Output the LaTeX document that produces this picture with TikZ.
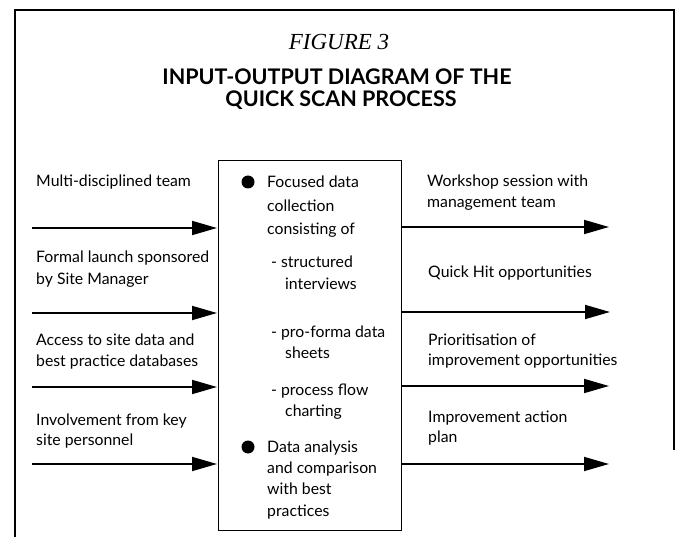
\documentclass[tikz,border=0pt]{standalone}
\usepackage{fontspec}
\setmainfont{Lato}
\newfontfamily\figfont{Liberation Serif}
\usetikzlibrary{arrows.meta}
\begin{document}
\begin{tikzpicture}[x=1pt,y=-1pt,
  lbl/.style={anchor=base west,inner sep=0pt,font=\fontsize{15.8}{18}\selectfont},
  flow/.style={line width=1.8pt,-{Triangle[length=25pt,width=14pt]}},
  frame/.style={line width=1.4pt},
  bul/.style={circle,fill=black,inner sep=0pt,minimum size=13pt},
  ttl/.style={anchor=base,inner sep=0pt,font=\bfseries\fontsize{21.5}{24}\selectfont}]
\useasboundingbox (0,0) rectangle (677,537);
% outer frame
\draw[frame] (15,537) -- (15,10) -- (674,10) -- (674,450);
% title
\node[anchor=base,inner sep=0pt] (fig) at (339,50) {\figfont\itshape\fontsize{23}{26}\selectfont FIGURE 3};
\node[ttl] (t1) at (337,85) {INPUT-OUTPUT DIAGRAM OF THE};
\node[ttl] (t2) at (341,107) {QUICK SCAN PROCESS};
% process box
\node[draw,line width=1.4pt,anchor=north west,minimum width=183pt,minimum height=370pt,inner sep=0pt] (proc) at (218,160) {};
% box contents
\node[bul] (b1) at (248,182) {};
\node[lbl] (c1) at (267,188) {Focused data};
\node[lbl] (c2) at (267,212) {collection};
\node[lbl] (c3) at (267,235) {consisting of};
\node[lbl] (c4) at (271,268) {- structured};
\node[lbl] (c5) at (285,290) {interviews};
\node[lbl] (c6) at (271,337) {- pro-forma data};
\node[lbl] (c7) at (285,358) {sheets};
\node[lbl] (c8) at (271,395) {- process flow};
\node[lbl] (c9) at (285,416) {charting};
\node[bul] (b2) at (248,447) {};
\node[lbl] (c10) at (267,452) {Data analysis};
\node[lbl] (c11) at (267,473) {and comparison};
\node[lbl] (c12) at (267,494) {with best};
\node[lbl] (c13) at (267,516) {practices};
% inputs
\node[lbl] (i1) at (36,187) {Multi-disciplined team};
\node[lbl] (i2a) at (36,262) {Formal launch sponsored};
\node[lbl] (i2b) at (36,284) {by Site Manager};
\node[lbl] (i3a) at (36,345) {Access to site data and};
\node[lbl] (i3b) at (36,366) {best practice databases};
\node[lbl] (i4a) at (36,425) {Involvement from key};
\node[lbl] (i4b) at (36,445) {site personnel};
\coordinate (ia1) at (32,228);  \coordinate (ib1) at (217,228);
\coordinate (ia2) at (32,313);  \coordinate (ib2) at (217,313);
\coordinate (ia3) at (32,387);  \coordinate (ib3) at (217,387);
\coordinate (ia4) at (32,464);  \coordinate (ib4) at (217,464);
\draw[flow] (ia1) -- (ib1);
\draw[flow] (ia2) -- (ib2);
\draw[flow] (ia3) -- (ib3);
\draw[flow] (ia4) -- (ib4);
% outputs
\node[lbl] (o1a) at (427,187) {Workshop session with};
\node[lbl] (o1b) at (427,208) {management team};
\node[lbl] (o2) at (428,277) {Quick Hit opportunities};
\node[lbl] (o3a) at (428,345) {Prioritisation of};
\node[lbl] (o3b) at (428,365) {improvement opportunities};
\node[lbl] (o4a) at (428,422) {Improvement action};
\node[lbl] (o4b) at (428,442) {plan};
\coordinate (oa1) at (401,227); \coordinate (ob1) at (609,227);
\coordinate (oa2) at (401,312); \coordinate (ob2) at (610,312);
\coordinate (oa3) at (401,386); \coordinate (ob3) at (609,386);
\coordinate (oa4) at (401,464); \coordinate (ob4) at (609,464);
\draw[flow] (oa1) -- (ob1);
\draw[flow] (oa2) -- (ob2);
\draw[flow] (oa3) -- (ob3);
\draw[flow] (oa4) -- (ob4);
\end{tikzpicture}
\end{document}
